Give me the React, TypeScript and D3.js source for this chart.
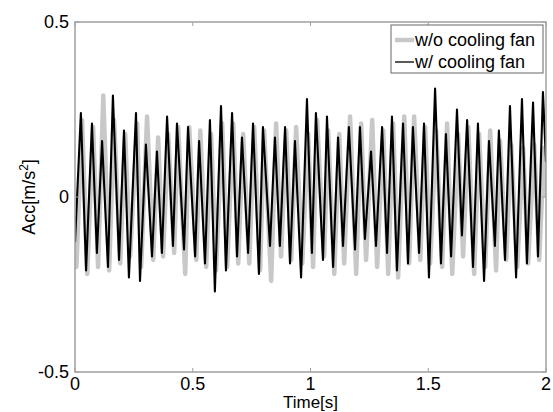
import React from 'react';
import * as d3 from 'd3';

// extrema (time in s, acceleration in m/s^2)
const withFanTime = [0, 0.025, 0.047, 0.072, 0.093, 0.115, 0.140, 0.161, 0.187, 0.208, 0.229, 0.259, 0.276, 0.301, 0.327, 0.348, 0.369, 0.391, 0.416, 0.433, 0.463, 0.480, 0.510, 0.527, 0.552, 0.573, 0.594, 0.620, 0.641, 0.667, 0.688, 0.709, 0.735, 0.756, 0.781, 0.798, 0.828, 0.849, 0.870, 0.892, 0.913, 0.934, 0.960, 0.985, 1.006, 1.023, 1.053, 1.070, 1.096, 1.117, 1.138, 1.163, 1.189, 1.210, 1.231, 1.257, 1.278, 1.304, 1.325, 1.346, 1.367, 1.393, 1.414, 1.435, 1.461, 1.482, 1.503, 1.529, 1.554, 1.575, 1.597, 1.622, 1.643, 1.665, 1.690, 1.711, 1.737, 1.758, 1.783, 1.800, 1.826, 1.847, 1.873, 1.898, 1.919, 1.945, 1.966, 1.987, 2.0];
const withFanAcc = [-0.13, 0.24, -0.21, 0.21, -0.16, 0.16, -0.20, 0.29, -0.18, 0.19, -0.23, 0.24, -0.24, 0.15, -0.17, 0.13, -0.16, 0.23, -0.14, 0.21, -0.15, 0.20, -0.17, 0.16, -0.19, 0.22, -0.27, 0.26, -0.21, 0.24, -0.17, 0.17, -0.16, 0.21, -0.22, 0.20, -0.14, 0.17, -0.14, 0.20, -0.19, 0.16, -0.23, 0.28, -0.16, 0.24, -0.18, 0.23, -0.20, 0.17, -0.14, 0.20, -0.15, 0.20, -0.12, 0.13, -0.14, 0.20, -0.16, 0.23, -0.21, 0.21, -0.19, 0.20, -0.16, 0.21, -0.23, 0.31, -0.19, 0.18, -0.17, 0.25, -0.11, 0.22, -0.20, 0.21, -0.24, 0.16, -0.14, 0.19, -0.18, 0.26, -0.23, 0.28, -0.19, 0.27, -0.17, 0.30, 0.10];

const noFanTime = [0, 0.006, 0.030, 0.052, 0.077, 0.098, 0.120, 0.145, 0.166, 0.192, 0.213, 0.234, 0.264, 0.281, 0.306, 0.332, 0.353, 0.374, 0.396, 0.421, 0.438, 0.468, 0.485, 0.515, 0.532, 0.557, 0.578, 0.599, 0.625, 0.646, 0.672, 0.693, 0.714, 0.740, 0.761, 0.786, 0.803, 0.833, 0.854, 0.875, 0.897, 0.918, 0.939, 0.965, 0.990, 1.011, 1.028, 1.058, 1.075, 1.101, 1.122, 1.143, 1.168, 1.194, 1.215, 1.236, 1.262, 1.283, 1.309, 1.330, 1.351, 1.372, 1.398, 1.419, 1.440, 1.466, 1.487, 1.508, 1.534, 1.559, 1.580, 1.602, 1.627, 1.648, 1.670, 1.695, 1.716, 1.742, 1.763, 1.788, 1.805, 1.831, 1.852, 1.878, 1.903, 1.924, 1.950, 1.971, 1.992, 2.0];
const noFanAcc = [-0.05, -0.20, 0.22, -0.22, 0.20, -0.20, 0.29, -0.21, 0.22, -0.19, 0.18, -0.17, 0.21, -0.20, 0.23, -0.18, 0.17, -0.17, 0.18, -0.16, 0.20, -0.22, 0.20, -0.18, 0.19, -0.20, 0.18, -0.21, 0.21, -0.20, 0.21, -0.19, 0.18, -0.19, 0.20, -0.21, 0.19, -0.24, 0.21, -0.17, 0.19, -0.18, 0.20, -0.19, 0.18, -0.20, 0.22, -0.17, 0.19, -0.22, 0.18, -0.19, 0.23, -0.22, 0.21, -0.18, 0.22, -0.20, 0.19, -0.22, 0.21, -0.23, 0.23, -0.19, 0.23, -0.18, 0.20, -0.19, 0.19, -0.20, 0.21, -0.22, 0.18, -0.17, 0.20, -0.22, 0.18, -0.20, 0.19, -0.21, 0.16, -0.18, 0.15, -0.20, 0.14, -0.19, 0.15, -0.18, 0.14, 0.0];

const xTicks = [0, 0.5, 1, 1.5, 2];
const yTicks = [-0.5, 0, 0.5];
const seriesNames = ['w/o cooling fan', 'w/ cooling fan'];

const W = 553;
const H = 412;
const margin = { top: 22, right: 7, bottom: 40, left: 75 };
const FONT = 'Liberation Sans, Arial, sans-serif';
const FS = 18;

export default function App() {
    const x = d3.scaleLinear().domain([0, 2]).range([margin.left, W - margin.right]);
    const y = d3.scaleLinear().domain([-0.5, 0.5]).range([H - margin.bottom, margin.top]);

    const line = d3.line<[number, number]>()
        .x(d => x(d[0]))
        .y(d => y(d[1]));

    const noFan = noFanTime.map((t, i) => [t, noFanAcc[i]] as [number, number]);
    const withFan = withFanTime.map((t, i) => [t, withFanAcc[i]] as [number, number]);

    const [x0, x1] = x.range();
    const [y0, y1] = y.range();
    const axisColor = '#a0a0a0';

    const lx = 391, ly = 25, lw = 152, lh = 48;

    return (
        <svg width={W} height={H} style={{ position: 'absolute', left: 0, top: 0, background: '#fff' }}
            fontFamily={FONT}>
            <defs>
                <clipPath id="plot">
                    <rect x={x0} y={y1} width={x1 - x0} height={y0 - y1} />
                </clipPath>
            </defs>
            <g clipPath="url(#plot)">
                <path d={line(noFan) ?? ''} fill="none" stroke="#c8c8c8" strokeWidth={4.5} strokeLinejoin="round" />
                <path d={line(withFan) ?? ''} fill="none" stroke="#000" strokeWidth={2.1} strokeLinejoin="round" />
            </g>

            {/* axes box */}
            <rect x={x0} y={y1} width={x1 - x0} height={y0 - y1} fill="none" stroke={axisColor} strokeWidth={1.5} />
            {xTicks.map(t => (
                <g key={'x' + t}>
                    <line x1={x(t)} x2={x(t)} y1={y0} y2={y0 - 4} stroke={axisColor} />
                    <line x1={x(t)} x2={x(t)} y1={y1} y2={y1 + 4} stroke={axisColor} />
                    <text x={x(t)} y={y0 + 18} textAnchor="middle" fontSize={FS}>{t}</text>
                </g>
            ))}
            {yTicks.map(t => (
                <g key={'y' + t}>
                    <line x1={x0} x2={x0 + 4} y1={y(t)} y2={y(t)} stroke={axisColor} />
                    <line x1={x1} x2={x1 - 4} y1={y(t)} y2={y(t)} stroke={axisColor} />
                    <text x={x0 - 6} y={y(t) + 6} textAnchor="end" fontSize={FS}>{t}</text>
                </g>
            ))}

            <text x={(x0 + x1) / 2} y={H - 4} textAnchor="middle" fontSize={17}>Time[s]</text>
            <text transform={`translate(35,${(y0 + y1) / 2}) rotate(-90)`} textAnchor="middle" fontSize={FS}>
                Acc[m/s<tspan dy={-7} fontSize={12}>2</tspan><tspan dy={7}>]</tspan>
            </text>

            {/* legend */}
            <rect x={lx} y={ly} width={lw} height={lh} fill="#fff" stroke="#666" strokeWidth={1} />
            <line x1={lx + 4} x2={lx + 23} y1={ly + 15} y2={ly + 15} stroke="#c8c8c8" strokeWidth={4.5} />
            <text x={lx + 24} y={ly + 21} fontSize={FS}>{seriesNames[0]}</text>
            <line x1={lx + 4} x2={lx + 23} y1={ly + 37} y2={ly + 37} stroke="#000" strokeWidth={1.3} />
            <text x={lx + 24} y={ly + 43} fontSize={FS}>{seriesNames[1]}</text>
        </svg>
    );
}
